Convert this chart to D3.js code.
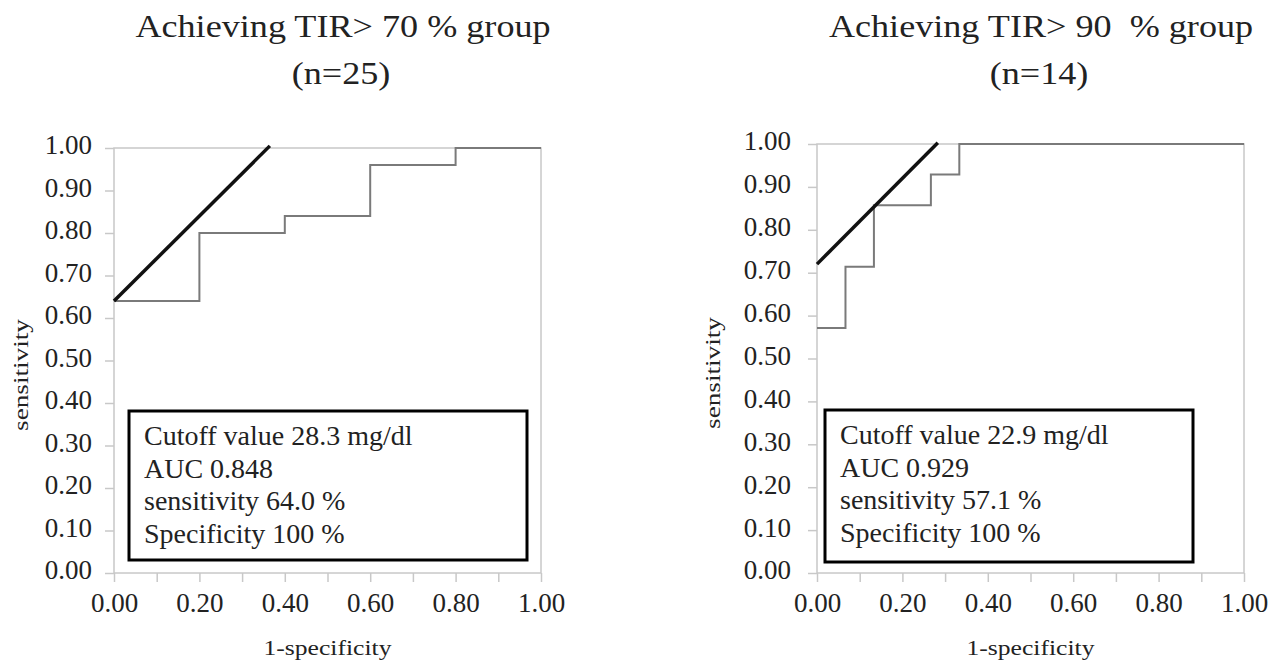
<!DOCTYPE html>
<html><head><meta charset="utf-8">
<script src="https://cdn.jsdelivr.net/npm/d3@7"></script>
<style>body{margin:0;background:#fff;} svg{display:block;} text{font-family:"Liberation Serif","Times New Roman",serif;fill:#222;}</style>
</head><body>
<svg id="chart" width="1277" height="663"></svg>
<script>
// Panel titles
const titles = [["Achieving TIR> 70 % group", "(n=25)"], ["Achieving TIR> 90\u00a0 % group", "(n=14)"]];
// ROC step curves (x = 1-specificity, y = sensitivity)
const rocLeftX = [0, 0.2, 0.2, 0.4, 0.4, 0.6, 0.6, 0.8, 0.8, 1.0];
const rocLeftY = [0.64, 0.64, 0.80, 0.80, 0.84, 0.84, 0.96, 0.96, 1.0, 1.0];
const rocRightX = [0, 0.0667, 0.0667, 0.1333, 0.1333, 0.2667, 0.2667, 0.3333, 0.3333, 1.0];
const rocRightY = [0.571, 0.571, 0.714, 0.714, 0.857, 0.857, 0.929, 0.929, 1.0, 1.0];
// Tangent (cut-off) lines
const tanLeftX = [0, 0.365];
const tanLeftY = [0.64, 1.005];
const tanRightX = [0, 0.283];
const tanRightY = [0.72, 1.003];
// Annotation texts
const noteLeft = ["Cutoff value 28.3 mg/dl", "AUC 0.848", "sensitivity 64.0 %", "Specificity 100 %"];
const noteRight = ["Cutoff value 22.9 mg/dl", "AUC 0.929", "sensitivity 57.1 %", "Specificity 100 %"];
// Axis ticks
const xTicks = [0, 0.1, 0.2, 0.3, 0.4, 0.5, 0.6, 0.7, 0.8, 0.9, 1.0];
const xTickLabels = [0, 0.2, 0.4, 0.6, 0.8, 1.0];
const yTicks = [0, 0.1, 0.2, 0.3, 0.4, 0.5, 0.6, 0.7, 0.8, 0.9, 1.0];
const xLabel = "1-specificity";
const yLabel = "sensitivity";

const svg = d3.select("#chart");

const panels = [
  {x0:114, x1:541, y0:148, y1:573, title:titles[0], cx:343, rx:rocLeftX, ry:rocLeftY, tx:tanLeftX, ty:tanLeftY, note:noteLeft,
   box:{x:129, y:411, w:398, h:149}, ylabX:21, ylabY:375, tickOff:22},
  {x0:817, x1:1244, y0:144, y1:573, title:titles[1], cx:1041, rx:rocRightX, ry:rocRightY, tx:tanRightX, ty:tanRightY, note:noteRight,
   box:{x:825, y:410, w:368, h:152}, ylabX:713, ylabY:373, tickOff:26}
];

panels.forEach(p => {
  const x = d3.scaleLinear().domain([0,1]).range([p.x0, p.x1]);
  const y = d3.scaleLinear().domain([0,1]).range([p.y1, p.y0]);
  const g = svg.append("g");

  // titles
  g.append("text").attr("transform", `translate(${p.cx},37) scale(1.13,1)`).attr("text-anchor","middle")
    .style("font-size","32px").text(p.title[0]);
  g.append("text").attr("transform", `translate(${p.cx-2},84) scale(1.13,1)`).attr("text-anchor","middle")
    .style("font-size","32px").text(p.title[1]);

  // frame
  g.append("rect").attr("x", p.x0).attr("y", p.y0).attr("width", p.x1-p.x0).attr("height", p.y1-p.y0)
    .attr("fill","none").attr("stroke","#c8c8c8").attr("stroke-width",1.5);

  // x axis
  const xa = g.append("g").attr("transform", `translate(0,${p.y1})`)
    .call(d3.axisBottom(x).tickValues(xTicks).tickSize(9).tickSizeOuter(0)
      .tickFormat(d => xTickLabels.some(v => Math.abs(v-d) < 1e-9) ? d3.format(".2f")(d) : ""));
  xa.select(".domain").remove();
  xa.selectAll("line").attr("stroke","#c8c8c8").attr("stroke-width",1.5);
  xa.selectAll("text").style("font-size","27px").attr("fill","#222").attr("y",20).attr("dy","0.7em").attr("font-family",null);

  // y axis
  const ya = g.append("g").attr("transform", `translate(${p.x0},0)`)
    .call(d3.axisLeft(y).tickValues(yTicks).tickSize(9).tickSizeOuter(0).tickFormat(d3.format(".2f")));
  ya.select(".domain").remove();
  ya.selectAll("line").attr("stroke","#c8c8c8").attr("stroke-width",1.5);
  ya.selectAll("text").style("font-size","27px").attr("fill","#222").attr("x",-p.tickOff).attr("dy","0.22em").attr("font-family",null);

  // axis titles
  g.append("text").attr("transform", `translate(${(p.x0+p.x1)/2},655) scale(1.22,1)`).attr("text-anchor","middle")
    .style("font-size","21px").text(xLabel);
  g.append("text").attr("transform", `translate(${p.ylabX},${p.ylabY}) rotate(-90) scale(1.36,1)`)
    .attr("text-anchor","middle").attr("dy","0.35em").style("font-size","20px").text(yLabel);

  // ROC curve
  const pts = p.rx.map((v,i) => [v, p.ry[i]]);
  g.append("path").datum(pts)
    .attr("d", d3.line().x(d => x(d[0])).y(d => y(d[1])))
    .attr("fill","none").attr("stroke","#7a7a7a").attr("stroke-width",2);

  // tangent line
  const tp = p.tx.map((v,i) => [v, p.ty[i]]);
  g.append("path").datum(tp)
    .attr("d", d3.line().x(d => x(d[0])).y(d => y(d[1])))
    .attr("fill","none").attr("stroke","#111").attr("stroke-width",3.5);

  // annotation box
  g.append("rect").attr("x", p.box.x).attr("y", p.box.y).attr("width", p.box.w).attr("height", p.box.h)
    .attr("fill","#fff").attr("stroke","#000").attr("stroke-width",3);
  p.note.forEach((t,i) => {
    g.append("text").attr("x", p.box.x + 15).attr("y", p.box.y + 34 + i*32.7)
      .style("font-size","28px").text(t);
  });
});
</script>
</body></html>
